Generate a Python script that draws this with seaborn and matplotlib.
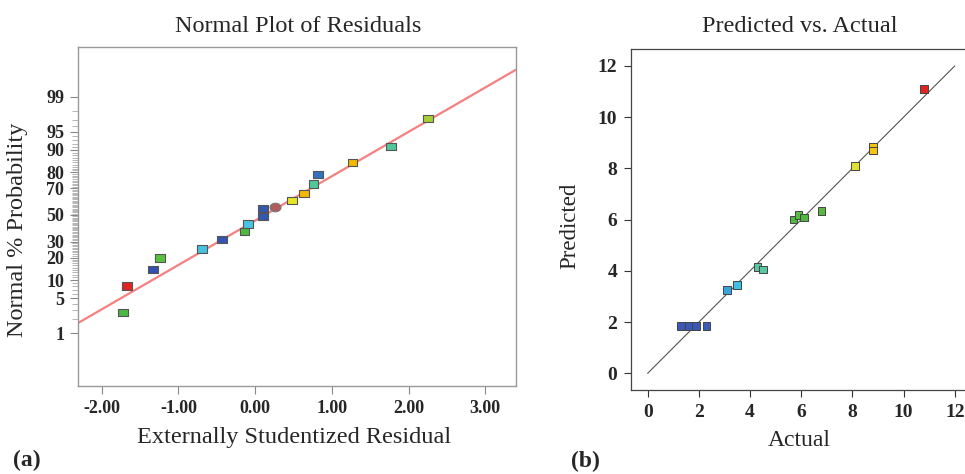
import numpy as np
import pandas as pd
import matplotlib
matplotlib.use("Agg")
import matplotlib.pyplot as plt
import seaborn as sns
from statistics import NormalDist

# (a) normal plot of residuals
resid = [-1.72, -1.67, -1.33, -1.24, -0.69, -0.43, -0.14, -0.09, 0.10, 0.10,
         0.48, 0.64, 0.76, 0.82, 1.27, 1.77, 2.25]
prob = [2.7, 8.1, 14.0, 19.8, 25.1, 31.2, 37.4, 42.9, 48.8, 55.2,
        61.0, 66.6, 72.9, 78.8, 84.8, 91.0, 97.1]
resid_colors = ["#4cb848", "#e02424", "#3450b0", "#58c040", "#48c0e0", "#3454b0",
                "#50b840", "#48c4e0", "#3458b0", "#3458b0", "#e8e428", "#f4b800",
                "#50c898", "#3470c0", "#f4b800", "#50c898", "#a8d030"]
circle_resid = [0.26]
circle_prob = [56.4]
line_resid = [-2.31, 3.40]
line_prob = [1.66, 99.79]
prob_labels = [1, 5, 10, 20, 30, 50, 70, 80, 90, 95, 99]
resid_ticks = [-2, -1, 0, 1, 2, 3]

# (b) predicted vs actual
actual = [1.3, 1.6, 1.9, 2.3, 3.1, 3.5, 4.3, 4.5, 5.7, 5.9, 6.1, 6.8, 8.1, 8.8, 8.8, 10.8]
predicted = [1.85, 1.85, 1.85, 1.85, 3.25, 3.45, 4.14, 4.06, 6.01, 6.17, 6.08, 6.33,
             8.10, 8.83, 8.70, 11.1]
pred_colors = ["#3a58b4", "#3a58b4", "#3a58b4", "#3a5cb8", "#38a4dc", "#40c0e4",
               "#58c8a0", "#58c8a0", "#50b840", "#58bc40", "#50b840", "#58b840",
               "#e0e030", "#f4c410", "#f4c410", "#e02424"]
axis_ticks = [0, 2, 4, 6, 8, 10, 12]

sns.set_style("white")
plt.rcParams["font.family"] = ["Liberation Serif", "DejaVu Serif"]

nd = NormalDist()
def z(p):
    return nd.inv_cdf(p / 100.0)

rect = [(-1, -0.74), (1, -0.74), (1, 0.74), (-1, 0.74), (-1, -0.74)]
t = np.linspace(0, 2 * np.pi, 40)
oval = list(zip(np.cos(t), 0.78 * np.sin(t)))

fig = plt.figure(figsize=(9.65, 4.74), dpi=100)
W, H = 965, 474

# ---- panel (a)
ax1 = fig.add_axes([78 / W, 1 - 386 / H, (516 - 78) / W, (386 - 47) / H])
df1 = pd.DataFrame({"x": resid, "z": [z(p) for p in prob], "c": resid_colors})
sns.lineplot(x=line_resid, y=[z(p) for p in line_prob], ax=ax1,
             color="#f48080", lw=1.6)
sns.scatterplot(data=df1, x="x", y="z", hue="c", palette={c: c for c in resid_colors},
                marker=rect, s=48, edgecolor="#555555", linewidth=0.8,
                legend=False, ax=ax1, zorder=3)
sns.scatterplot(x=circle_resid, y=[z(p) for p in circle_prob], marker=oval, s=62,
                color="#b05c5c", edgecolor="#777777", linewidth=0.8, ax=ax1, zorder=3)
ax1.set_xlim(-2.31, 3.40)
ax1.set_ylim(-3.37, 3.31)
ax1.set_xticks(resid_ticks)
ax1.set_xticklabels([f"{t:.2f}" for t in resid_ticks], fontweight="bold", fontsize=13)
ax1.set_yticks([z(p) for p in prob_labels])
ax1.set_yticklabels([str(p) for p in prob_labels], fontweight="bold", fontsize=13)
ax1.set_yticks([z(p) for p in range(1, 100)], minor=True)
ax1.tick_params(axis="both", which="major", direction="out", length=6,
                color="#888888", width=0.8, left=True, bottom=True, pad=4)
ax1.tick_params(axis="y", which="minor", direction="out", length=4,
                color="#999999", width=0.5, left=True)
for sp in ax1.spines.values():
    sp.set_color("#999999")
    sp.set_linewidth(1.0)
ax1.set_xlabel("Externally Studentized Residual", fontsize=17.5, va="center")
ax1.xaxis.set_label_coords(0.494, -0.153)
ax1.set_ylabel("Normal % Probability", fontsize=17.5, va="center")
ax1.yaxis.set_label_coords(-0.137, 0.46)
fig.text(298 / W, 1 - 27 / H, "Normal Plot of Residuals", fontsize=17.5,
         ha="center", va="center")

# ---- panel (b)
ax2 = fig.add_axes([631 / W, 1 - 390 / H, (990 - 631) / W, (390 - 49) / H])
df2 = pd.DataFrame({"a": actual, "p": predicted, "c": pred_colors})
sns.lineplot(x=[0, 12], y=[0, 12], ax=ax2, color="#555555", lw=0.8)
sns.scatterplot(data=df2, x="a", y="p", hue="c", palette={c: c for c in pred_colors},
                marker="s", s=30, edgecolor="#444444", linewidth=0.7,
                legend=False, ax=ax2, zorder=3)
ax2.set_xlim(-0.65, 12.4 + (990 - 965) / 25.6)
ax2.set_ylim(-0.65, 12.66)
ax2.set_xticks(axis_ticks)
ax2.set_yticks(axis_ticks)
ax2.set_xticklabels([str(t) for t in axis_ticks], fontweight="bold", fontsize=14)
ax2.set_yticklabels([str(t) for t in axis_ticks], fontweight="bold", fontsize=14)
ax2.tick_params(axis="both", direction="out", length=5, color="#333333", width=0.8,
                left=True, bottom=True, pad=5)
for sp in ax2.spines.values():
    sp.set_color("#444444")
    sp.set_linewidth(0.9)
ax2.spines["right"].set_visible(False)
ax2.set_xlabel("Actual", fontsize=17, va="center")
ax2.xaxis.set_label_coords(0.468, -0.147)
ax2.set_ylabel("Predicted", fontsize=16.5, va="center")
ax2.yaxis.set_label_coords(-0.170, 0.481)
fig.text(800 / W, 1 - 27 / H, "Predicted vs. Actual", fontsize=17.5,
         ha="center", va="center")

fig.text(27 / W, 1 - 460 / H, "(a)", fontsize=17, fontweight="bold",
         ha="center", va="center")
fig.text(585 / W, 1 - 461 / H, "(b)", fontsize=17, fontweight="bold",
         ha="center", va="center")

fig.savefig("out.png", dpi=100)
